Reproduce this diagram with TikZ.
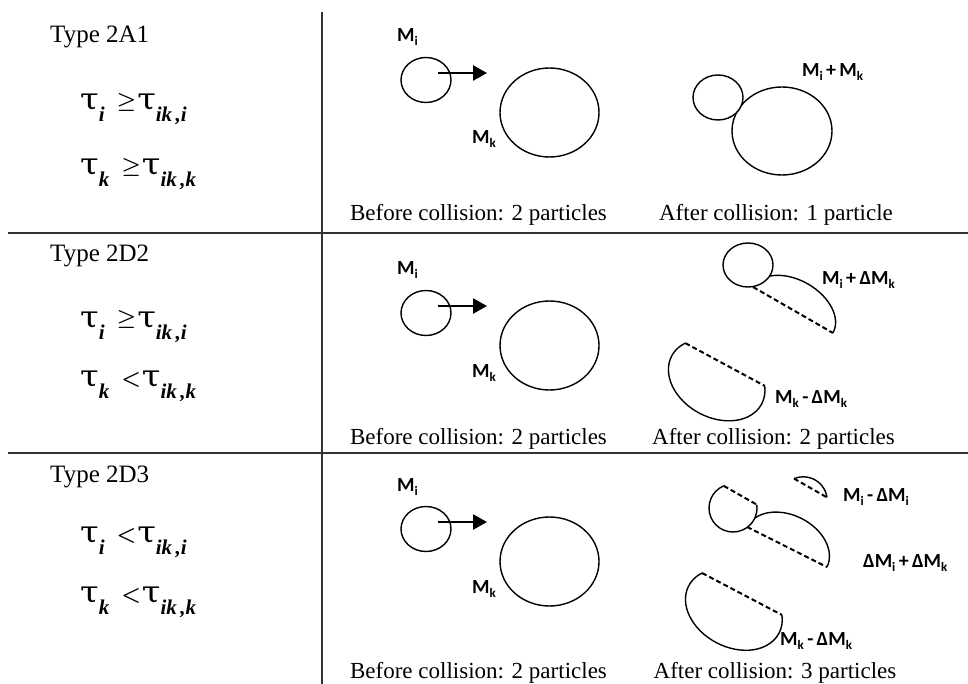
\documentclass[tikz,border=0pt]{standalone}
\usepackage{fontspec}
\setmainfont{Liberation Serif}
\newfontfamily\labfont{Carlito}
\newfontfamily\taufont{DejaVu Serif}
\usetikzlibrary{arrows.meta,shapes.geometric}
\newcommand\lsub[1]{\raisebox{-4pt}{\fontsize{13}{13}\selectfont #1}}
\newcommand\csub[1]{\raisebox{-12pt}{\fontsize{21}{21}\selectfont\bfseries\itshape #1}}
\newcommand\tu{\scalebox{1.12}[1]{\taufont\fontsize{30}{30}\selectfont τ}}
\newcommand\relge{\raisebox{2.5pt}{\scalebox{2.2}[2.0]{\fontsize{10}{12}\selectfont\boldmath$\geq$}}}
\newcommand\rellt{\raisebox{0.8pt}{\scalebox{2.2}{\fontsize{10}{12}\selectfont\boldmath$<$}}}
\begin{document}
\begin{tikzpicture}[x=1pt,y=1pt,
  rule/.style={line width=1.8pt, draw=black!80},
  ball/.style={ellipse, draw, line width=1.4pt, inner sep=0pt, outer sep=0pt},
  outline/.style={line width=1.4pt},
  chordline/.style={line width=2pt, dash pattern=on 5pt off 3pt},
  lab/.style={font=\labfont\bfseries\fontsize{20}{20}\selectfont, inner sep=0pt, anchor=base west},
  capt/.style={font=\fontsize{23}{23}\selectfont, inner sep=0pt, anchor=base},
  typ/.style={font=\fontsize{25}{25}\selectfont, inner sep=0pt, anchor=base west},
  cond/.style={font=\fontsize{30}{30}\selectfont, inner sep=0pt, anchor=base west},
  push/.style={line width=2.6pt, -{Triangle[length=14pt,width=15pt]}}]
\useasboundingbox (0,0) rectangle (968,-684);

% table rules
\coordinate (vtop) at (322,-12);
\coordinate (vbot) at (322,-684);
\coordinate (h1l) at (8,-233);
\coordinate (h1r) at (968,-233);
\coordinate (h2l) at (8,-453);
\coordinate (h2r) at (968,-453);
\draw[rule] (vtop) -- (vbot);
\draw[rule] (h1l) -- (h1r);
\draw[rule] (h2l) -- (h2r);

% left column
\node[typ] (t1) at (50,-43) {Type 2A1};
\node[cond] (c1a) at (80,-110) {\tu\csub{i}\hspace{12pt}\relge\hspace{1pt}\tu\csub{ik\,,i}};
\node[cond] (c1b) at (80,-175) {\tu\csub{k}\hspace{12pt}\relge\hspace{1pt}\tu\csub{ik\,,k}};
\node[typ] (t2) at (50,-262) {Type 2D2};
\node[cond] (c2a) at (80,-327) {\tu\csub{i}\hspace{12pt}\relge\hspace{1pt}\tu\csub{ik\,,i}};
\node[cond] (c2b) at (80,-386) {\tu\csub{k}\hspace{12pt}\rellt\hspace{1pt}\tu\csub{ik\,,k}};
\node[typ] (t3) at (50,-482) {Type 2D3};
\node[cond] (c3a) at (80,-542) {\tu\csub{i}\hspace{12pt}\rellt\hspace{1pt}\tu\csub{ik\,,i}};
\node[cond] (c3b) at (80,-602) {\tu\csub{k}\hspace{12pt}\rellt\hspace{1pt}\tu\csub{ik\,,k}};

% before collision (all rows)
\foreach \r/\dy in {1/0,2/233,3/449}{
  \node[ball, minimum width=50pt, minimum height=45pt] (mi\r) at (426,-80-\dy) {};
  \node[ball, minimum width=99pt, minimum height=89pt] (mk\r) at (549.5,-112.5-\dy) {};
  \node[lab] (lmi\r) at (397,-42-\dy) {M\lsub{i}};
  \node[lab] (lmk\r) at (472,-144-\dy) {M\lsub{k}};
  \coordinate (as\r) at (438,-73-\dy);
  \coordinate (ae\r) at (487,-73-\dy);
  \draw[push] (as\r) -- (ae\r);
}
\node[capt] (bc1) at (478.5,-221) {Before collision: 2 particles};
\node[capt] (bc2) at (478.5,-444) {Before collision: 2 particles};
\node[capt] (bc3) at (478.5,-678) {Before collision: 2 particles};

% row 1 after
\node[ball, minimum width=100pt, minimum height=88pt] (big1) at (782,-131) {};
\node[ball, fill=white, minimum width=50pt, minimum height=45pt] (sm1) at (718,-97.5) {};
\node[lab] (l1) at (802,-77) {M\lsub{i}\,+\,M\lsub{k}};
\node[capt] (ac1) at (776,-221) {After collision: 1 particle};

% row 2 after
\begin{scope}[shift={(793,-310)}, rotate=-29.9]
  \draw[outline] (-46,0) arc[start angle=180, end angle=0, x radius=46, y radius=30];
  \draw[chordline] (-46,0) -- (46,0);
\end{scope}
\node[ball, fill=white, minimum width=50pt, minimum height=44pt] (sm2) at (748,-265) {};
\begin{scope}[shift={(725,-364.5)}, rotate=-28.3]
  \draw[outline] (0,-17.5) ++(152.2:51 and 37.5) arc[start angle=152.2, end angle=387.8, x radius=51, y radius=37.5];
  \draw[chordline] (-45.1,0) -- (45.1,0);
\end{scope}
\node[lab] (l2a) at (822,-285) {M\lsub{i}\,+\,ΔM\lsub{k}};
\node[lab] (l2b) at (775,-403) {M\lsub{k}\,-\,ΔM\lsub{k}};
\node[capt] (ac2) at (773.5,-444) {After collision: 2 particles};

% row 3 after
\begin{scope}[shift={(787,-547)}, rotate=-26.6]
  \draw[outline] (-44.7,0) arc[start angle=180, end angle=0, x radius=44.7, y radius=32];
  \draw[chordline] (-44.7,0) -- (44.7,0);
\end{scope}
\begin{scope}[shift={(733,-508)}, rotate=-29.6]
  \fill[white] (142.3:24) arc[start angle=142.3, end angle=397.7, radius=24] -- cycle;
  \draw[outline] (142.3:24) arc[start angle=142.3, end angle=397.7, radius=24];
  \draw[chordline] (142.3:24) -- (37.7:24);
\end{scope}
\begin{scope}[shift={(810.5,-488)}, rotate=-29.7]
  \draw[outline] (0,-14.7) ++(37.7:24) arc[start angle=37.7, end angle=142.3, radius=24];
  \draw[chordline] (-19,0) -- (19,0);
\end{scope}
\begin{scope}[shift={(742,-594)}, rotate=-27.7]
  \draw[outline] (0,-17.5) ++(152.2:51 and 37.5) arc[start angle=152.2, end angle=387.8, x radius=51, y radius=37.5];
  \draw[chordline] (-45.1,0) -- (45.1,0);
\end{scope}
\node[lab] (l3a) at (843,-501) {M\lsub{i}\,-\,ΔM\lsub{i}};
\node[lab] (l3b) at (863,-567) {ΔM\lsub{i}\,+\,ΔM\lsub{k}};
\node[lab] (l3c) at (780,-645) {M\lsub{k}\,-\,ΔM\lsub{k}};
\node[capt] (ac3) at (775,-678) {After collision: 3 particles};
\end{tikzpicture}
\end{document}
